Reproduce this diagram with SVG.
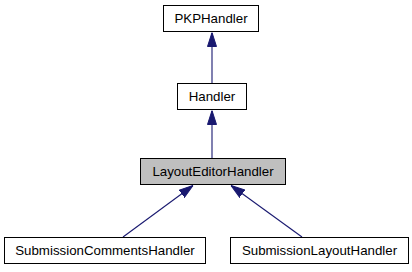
<svg xmlns="http://www.w3.org/2000/svg" width="412" height="272" viewBox="0 0 412 272">
  <style>
    .box { fill: #ffffff; stroke: #000000; stroke-width: 1; }
    .current { fill: #bfbfbf; }
    .label { font-family: "Liberation Sans", Arial, sans-serif; font-size: 13.3px; fill: #000000; text-anchor: middle; }
    .edge { stroke: #191970; stroke-width: 1.1; fill: none; }
  </style>
  <defs>
    <marker id="inherit" viewBox="0 0 14 10" refX="14" refY="5" markerWidth="14" markerHeight="10" markerUnits="userSpaceOnUse" orient="auto">
      <path d="M0,0.5 L14,5 L0,9.5 Z" fill="#191970" stroke="#191970" stroke-width="1"/>
    </marker>
  </defs>

  <!-- inheritance edges: child points up to its base class -->
  <g id="edges">
    <path class="edge" d="M212,83 L212,32.5" marker-end="url(#inherit)"/>
    <path class="edge" d="M212,158 L212,110.5" marker-end="url(#inherit)"/>
    <path class="edge" d="M123,237 L193,185.5" marker-end="url(#inherit)"/>
    <path class="edge" d="M302,237 L231,185.5" marker-end="url(#inherit)"/>
  </g>

  <g id="PKPHandler">
    <rect class="box" x="163.5" y="5.5" width="95" height="26"/>
    <text class="label" x="211" y="23">PKPHandler</text>
  </g>

  <g id="Handler">
    <rect class="box" x="177.5" y="83.5" width="69" height="26"/>
    <text class="label" x="212" y="101">Handler</text>
  </g>

  <g id="LayoutEditorHandler">
    <rect class="box current" x="140.5" y="158.5" width="145" height="26"/>
    <text class="label" x="213" y="176">LayoutEditorHandler</text>
  </g>

  <g id="SubmissionCommentsHandler">
    <rect class="box" x="4.5" y="237.5" width="201" height="26"/>
    <text class="label" x="105" y="255">SubmissionCommentsHandler</text>
  </g>

  <g id="SubmissionLayoutHandler">
    <rect class="box" x="230.5" y="237.5" width="178" height="26"/>
    <text class="label" x="319.5" y="255">SubmissionLayoutHandler</text>
  </g>
</svg>
